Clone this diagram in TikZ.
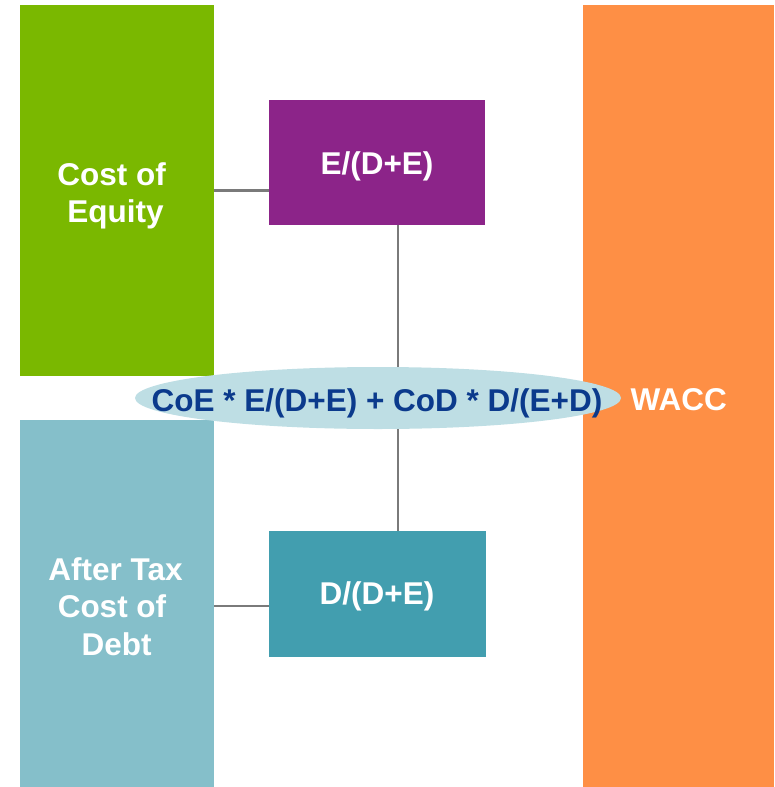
\documentclass[tikz,border=0pt]{standalone}
\usepackage{fontspec}
\setmainfont{Liberation Sans}
\usetikzlibrary{shapes.geometric,backgrounds}
\definecolor{eqgreen}{HTML}{7AB800}
\definecolor{debtblue}{HTML}{85BFCA}
\definecolor{waccorange}{HTML}{FE8F45}
\definecolor{wpurple}{HTML}{8C2489}
\definecolor{wteal}{HTML}{429EAF}
\definecolor{ovalfill}{HTML}{BEDEE4}
\definecolor{navytext}{HTML}{0B3A8C}
\definecolor{linkgray}{HTML}{7A7A7A}
\tikzset{
  block/.style={rectangle, draw=none, inner sep=0pt},
  big text/.style={anchor=base, inner sep=0pt,
    font=\fontsize{31.5}{38}\selectfont\bfseries},
  label text/.style={big text, text=white},
  link/.style={draw=linkgray, line width=2.2pt}
}
\begin{document}
\begin{tikzpicture}[x=1pt,y=-1pt]
\useasboundingbox (0,0) rectangle (774,787);
% input columns and the result column
\node[block, fill=eqgreen, minimum width=194pt, minimum height=371pt] (equity) at (117,190.5) {};
\node[block, fill=debtblue, minimum width=194pt, minimum height=367pt] (debt) at (117,603.5) {};
\node[block, fill=waccorange, minimum width=191pt, minimum height=782pt] (wacc) at (678.5,396) {};
% weights
\node[block, fill=wpurple, minimum width=216pt, minimum height=125pt] (eweight) at (377,162.5) {};
\node[block, fill=wteal, minimum width=217pt, minimum height=126pt] (dweight) at (377.5,594) {};
% formula oval
\node[ellipse, fill=ovalfill, draw=none, inner sep=0pt,
  minimum width=486pt, minimum height=62pt] (oval) at (378,398) {};
% labels, placed on their baselines
\node[label text] (eqline1) at (111.7,185) {Cost of};
\node[label text] (eqline2) at (115.5,222) {Equity};
\node[label text] (debtline1) at (115.5,580) {After Tax};
\node[label text] (debtline2) at (112,617.7) {Cost of};
\node[label text] (debtline3) at (116.7,655) {Debt};
\node[label text] (ewtext) at (377,174) {E/(D+E)};
\node[label text] (dwtext) at (377,604) {D/(D+E)};
\node[label text] (wacctext) at (678.7,410) {WACC};
\node[big text, text=navytext] (formula) at (377,411.5) {CoE * E/(D+E) + CoD * D/(E+D)};
% connectors
\begin{scope}[on background layer]
\draw[link] (equity.east) -- (equity.east -| eweight.west);
\draw[link] ([yshift=-2.5pt]debt.east) -- ([yshift=-2.5pt]debt.east -| dweight.west);
\draw[link] ([xshift=21pt]eweight.south) -- ([xshift=21pt]eweight.south |- oval.center);
\draw[link] ([xshift=20.5pt]dweight.north) -- ([xshift=20.5pt]dweight.north |- oval.center);
\end{scope}
\end{tikzpicture}
\end{document}
